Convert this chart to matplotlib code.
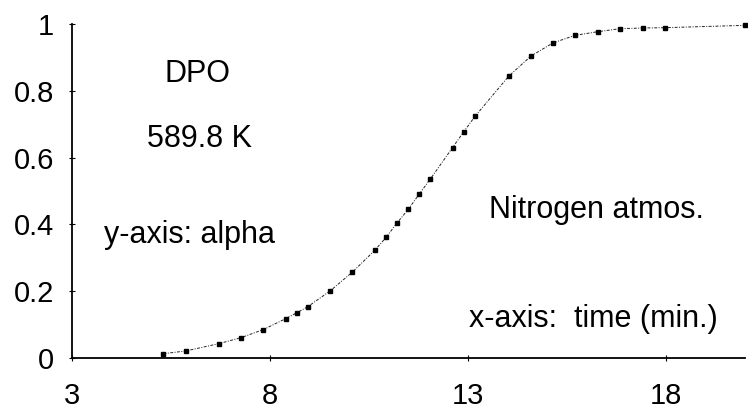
import matplotlib
matplotlib.use("Agg")
import matplotlib.pyplot as plt

plt.rcParams['font.family'] = ['Liberation Sans', 'DejaVu Sans']

time_min = [5.31, 5.87, 6.71, 7.27, 7.83, 8.40, 8.67, 8.96, 9.52, 10.08,
            10.65, 10.93, 11.20, 11.49, 11.77, 12.05, 12.61, 12.89, 13.18,
            14.03, 14.59, 15.14, 15.70, 16.28, 16.84, 17.41, 17.98, 20.0]
alpha = [0.013, 0.021, 0.043, 0.061, 0.085, 0.118, 0.135, 0.154, 0.201, 0.257,
         0.323, 0.361, 0.403, 0.445, 0.491, 0.536, 0.630, 0.677, 0.724,
         0.844, 0.904, 0.943, 0.966, 0.977, 0.986, 0.988, 0.989, 0.996]

x_ticks = [3, 8, 13, 18]
y_ticks = [0, 0.2, 0.4, 0.6, 0.8, 1]
y_tick_labels = ['0', '0.2', '0.4', '0.6', '0.8', '1']

fig = plt.figure(figsize=(7.48, 4.12), dpi=100)
ax = fig.add_axes([72/748, 54/412, 673.2/748, 334/412])

ax.plot(time_min, alpha, color='#222222', linewidth=0.7, linestyle=(0, (3, 1.5, 1, 1.5)),
        marker='s', markersize=3.3, markerfacecolor='black', markeredgecolor='black',
        clip_on=False)

ax.set_xlim(3, 20)
ax.set_ylim(0, 1)
ax.set_xticks(x_ticks)
ax.set_xticklabels([str(t) for t in x_ticks])
ax.set_yticks(y_ticks)
ax.set_yticklabels(y_tick_labels)

for s in ['top', 'right']:
    ax.spines[s].set_visible(False)
for s in ['left', 'bottom']:
    ax.spines[s].set_linewidth(1.3)
    ax.spines[s].set_color('black')

ax.tick_params(axis='both', direction='inout', length=4, width=0.8, labelsize=21, colors='black')
ax.tick_params(axis='x', pad=15)
ax.tick_params(axis='y', pad=11)

fs = 22
ax.text(0.138, 0.826, 'DPO', transform=ax.transAxes, fontsize=fs, ha='left', va='baseline')
ax.text(0.111, 0.632, '589.8 K', transform=ax.transAxes, fontsize=fs, ha='left', va='baseline')
ax.text(0.3015, 0.344, 'y-axis: alpha', transform=ax.transAxes, fontsize=fs, ha='right', va='baseline')
ax.text(0.6194, 0.419, 'Nitrogen atmos.', transform=ax.transAxes, fontsize=fs, ha='left', va='baseline')
ax.text(0.9596, 0.094, 'x-axis:  time (min.)', transform=ax.transAxes, fontsize=fs, ha='right', va='baseline')

fig.savefig('out.png', dpi=100)
